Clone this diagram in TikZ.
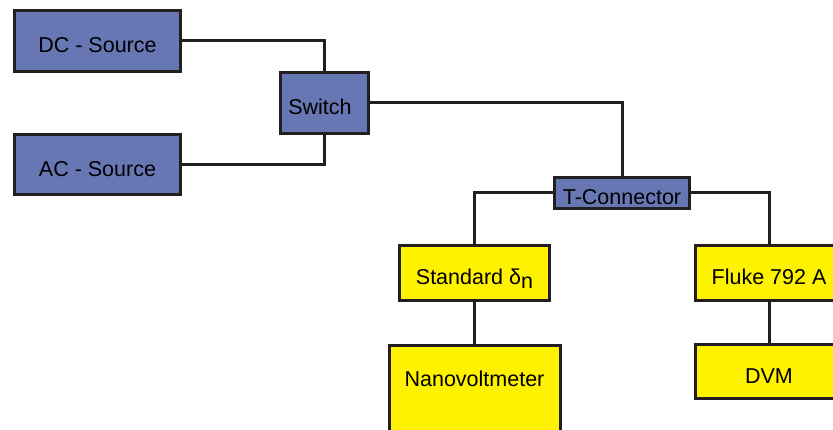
\documentclass[tikz,border=0pt]{standalone}
\usepackage{fontspec}
\setmainfont{Liberation Sans}
\definecolor{srcblue}{HTML}{6677B3}
\definecolor{devyellow}{HTML}{FFF200}
\definecolor{edge}{HTML}{231F20}
\begin{document}
\begin{tikzpicture}[x=1pt,y=-1pt,
            blubox/.style={draw=edge,fill=srcblue,line width=3pt,inner sep=0pt,text height=24pt,text depth=0pt},
            yelbox/.style={draw=edge,fill=devyellow,line width=3pt,inner sep=0pt,text height=24pt,text depth=0pt},
            wire/.style={draw=edge,line width=3pt}]
            \tikzstyle{every node}+=[font=\fontsize{21.5}{24}\selectfont]
            \useasboundingbox (0,0) rectangle (833,430);
            \clip (0,0) rectangle (833,430);
            \node [blubox,minimum width=166pt,minimum height=61pt] (dc) at (97.5,41) {DC - Source};
            \node [blubox,minimum width=166pt,minimum height=60pt] (ac) at (97.5,164.5) {AC - Source};
            \node [blubox,minimum width=88pt,minimum height=61pt] (sw) at (324.5,103) {Switch\hspace*{9pt}};
            \node [blubox,minimum width=135pt,minimum height=31pt] (tc) at (622,193) {T-Connector};
            \node [yelbox,minimum width=150pt,minimum height=55pt] (std) at (474.5,273) {Standard δ\raisebox{-0.35ex}{n}};
            \node [yelbox,minimum width=147pt,minimum height=55pt] (fl) at (769,273) {Fluke 792 A};
            \node [yelbox,minimum width=171pt,text height=40.5pt,text depth=78pt,anchor=north] (nano) at (474.5,344.5) {Nanovoltmeter};
            \node [yelbox,minimum width=147pt,minimum height=54pt] (dvm) at (769,371.5) {DVM};
            % wiring
            \draw [wire] (dc.east) -| (sw.north);
            \draw [wire] (ac.east) -| (sw.south);
            \draw [wire] (sw.east) -| (tc.north);
            \draw [wire] (tc.west) -| (std.north);
            \draw [wire] (tc.east) -| (fl.north);
            \draw [wire] (std.south) -- (nano.north);
            \draw [wire] (fl.south) -- (dvm.north);
\end{tikzpicture}
\end{document}
